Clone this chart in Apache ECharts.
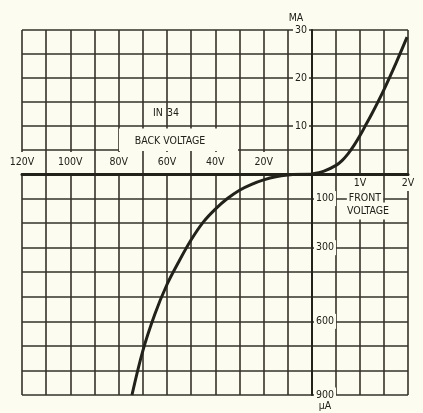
<!DOCTYPE html>
<html>
<head>
<meta charset="utf-8">
<title>IN 34</title>
<script src="https://cdn.jsdelivr.net/npm/echarts@6/dist/echarts.min.js"></script>
<style>
  html, body { margin: 0; padding: 0; background: #fcfcf1; }
  #chart { width: 423px; height: 413px; }
</style>
</head>
<body>
<div id="chart"></div>
<script>
// front voltage (V) -> current (mA)
const frontVolts = [0, 0.25, 0.5, 0.625, 0.75, 0.875, 1.0, 1.125, 1.25, 1.5, 1.75, 1.98]
const frontMilliAmps = [0, 0.6, 1.8, 2.8, 4.2, 5.95, 8.0, 10.3, 12.6, 17.6, 23.1, 28.5]
// back voltage (V, drawn to the left) -> current (uA, drawn downwards)
const backVolts = [0, -5, -10, -15, -20, -25, -30, -35, -40, -45, -50, -55, -60, -65, -70, -74.5]
const backMicroAmps = [0, 1, 4, 11, 24, 42, 66, 100, 143, 196, 268, 355, 450, 570, 720, 900]

// tick labels
const backTicks = [-120, -100, -80, -60, -40, -20]
const frontTicks = [1, 2]
const maTicks = [10, 20, 30]
const uaTicks = [100, 300, 600, 900]

const BG = '#fcfcf1'
const INK = '#22211a'
const LINE = '#35332a'
const FONT = '"Liberation Sans Narrow", "DejaVu Sans Condensed", "Liberation Sans", sans-serif'

const zip = (xs, ys) => xs.map((x, i) => [x, ys[i]])

function axis(extra) {
  return Object.assign({
    type: 'value',
    axisTick: { show: false },
    axisLine: { show: false },
    axisLabel: { show: false },
    splitLine: { show: true, lineStyle: { color: LINE, width: 1.6 } }
  }, extra)
}

const label = {
  show: true,
  color: INK,
  fontFamily: FONT,
  fontSize: 10.5,
  backgroundColor: BG
}

const chart = echarts.init(document.getElementById('chart'))

chart.setOption({
  backgroundColor: BG,
  animation: false,
  textStyle: { fontFamily: FONT, color: INK },
  grid: [
    { left: 22, top: 30, width: 290, height: 144 },
    { left: 312, top: 30, width: 96, height: 144 },
    { left: 22, top: 174, width: 290, height: 221 },
    { left: 312, top: 174, width: 96, height: 221 }
  ],
  xAxis: [
    axis({ gridIndex: 0, min: -120, max: 0, interval: 10 }),
    axis({ gridIndex: 1, min: 0, max: 2, interval: 0.5 }),
    axis({
      gridIndex: 2, min: -120, max: 0, interval: 10, position: 'top', z: 3,
      axisLine: { show: true, onZero: false, lineStyle: { color: INK, width: 3 } },
      axisLabel: Object.assign({}, label, {
        customValues: backTicks,
        formatter: v => Math.abs(v) + 'V',
        margin: 1,
        padding: [5, 2, 5, 2]
      })
    }),
    axis({
      gridIndex: 3, min: 0, max: 2, interval: 0.5, position: 'top', z: 3,
      axisLine: { show: true, onZero: false, lineStyle: { color: INK, width: 3 } },
      axisLabel: Object.assign({}, label, {
        inside: true,
        customValues: frontTicks,
        formatter: v => v + 'V',
        margin: 2,
        padding: [2, 2, 2, 2]
      })
    })
  ],
  yAxis: [
    axis({ gridIndex: 0, min: 0, max: 30, interval: 5 }),
    axis({
      gridIndex: 1, min: 0, max: 30, interval: 5, position: 'left', z: 3,
      axisLine: { show: true, onZero: false, lineStyle: { color: INK, width: 2 } },
      axisLabel: Object.assign({}, label, {
        customValues: maTicks,
        margin: 3,
        padding: [2, 2, 2, 2]
      })
    }),
    axis({
      gridIndex: 2, min: 0, max: 900, interval: 100, inverse: true, position: 'right', z: 3,
      axisLine: { show: true, onZero: false, lineStyle: { color: INK, width: 2 } },
      axisLabel: Object.assign({}, label, {
        customValues: uaTicks,
        margin: 2,
        padding: [2, 2, 2, 2]
      })
    }),
    axis({ gridIndex: 3, min: 0, max: 900, interval: 100, inverse: true })
  ],
  graphic: [
    { type: 'text', x: 296, y: 18, z: 50,
      style: { text: 'MA', fill: INK, font: '10.5px ' + FONT, align: 'center', verticalAlign: 'middle' } },
    { type: 'text', x: 325, y: 406, z: 50,
      style: { text: 'µA', fill: INK, font: '10.5px ' + FONT, align: 'center', verticalAlign: 'middle' } },
    { type: 'text', x: 166, y: 113, z: 50,
      style: {
        text: '{a|IN}{b|34}', align: 'center', verticalAlign: 'middle',
        rich: {
          a: { fill: INK, font: '10.5px ' + FONT, padding: [0, 4, 0, 0] },
          b: { fill: INK, font: '10.5px ' + FONT }
        }
      } },
    { type: 'rect', z: 49, shape: { x: 119, y: 128.5, width: 119, height: 22.5 }, style: { fill: BG } },
    { type: 'text', x: 170, y: 141, z: 50,
      style: { text: 'BACK VOLTAGE', fill: INK, font: '10.5px ' + FONT, align: 'center', verticalAlign: 'middle' } },
    { type: 'text', x: 365, y: 198, z: 50,
      style: { text: 'FRONT', fill: INK, font: '10.5px ' + FONT, align: 'center', verticalAlign: 'middle',
        backgroundColor: BG, padding: [2, 2, 2, 2] } },
    { type: 'text', x: 368, y: 211, z: 50,
      style: { text: 'VOLTAGE', fill: INK, font: '10.5px ' + FONT, align: 'center', verticalAlign: 'middle',
        backgroundColor: BG, padding: [3, 5, 3, 5] } }
  ],
  series: [
    {
      type: 'line',
      xAxisIndex: 1,
      yAxisIndex: 1,
      data: zip(frontVolts, frontMilliAmps),
      smooth: 0.35,
      symbol: 'none',
      lineStyle: { color: INK, width: 3 },
      z: 5
    },
    {
      type: 'line',
      xAxisIndex: 2,
      yAxisIndex: 2,
      data: zip(backVolts, backMicroAmps),
      smooth: 0.35,
      symbol: 'none',
      lineStyle: { color: INK, width: 3 },
      z: 5
    }
  ]
})
</script>
</body>
</html>
